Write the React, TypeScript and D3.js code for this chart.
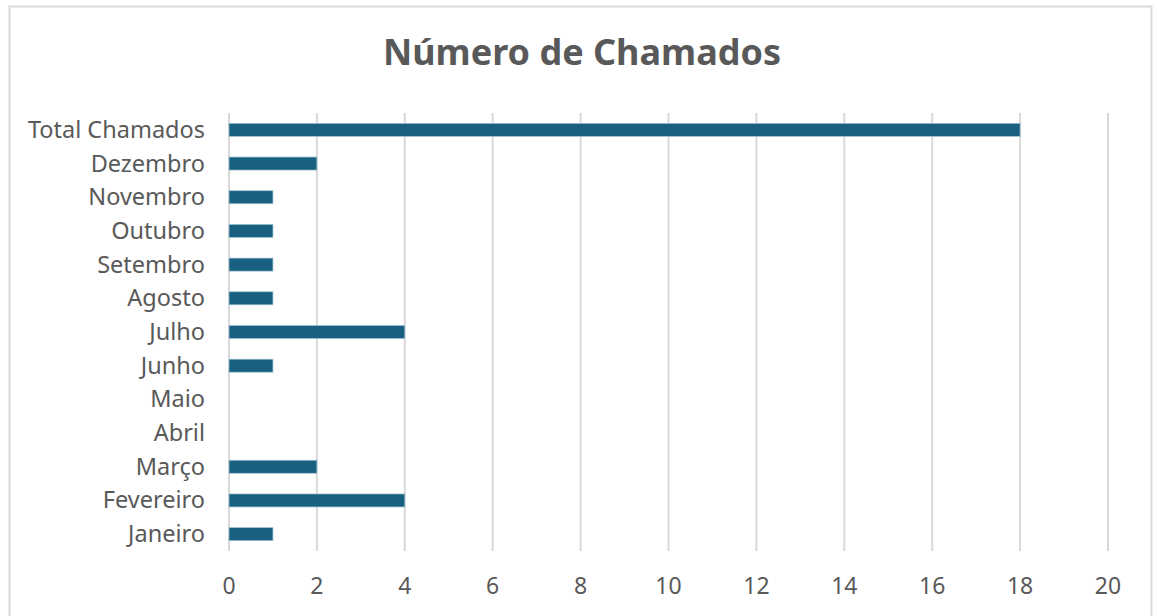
import React from "react";
import * as d3 from "d3";

const categories = ["Total Chamados", "Dezembro", "Novembro", "Outubro", "Setembro", "Agosto", "Julho", "Junho", "Maio", "Abril", "Março", "Fevereiro", "Janeiro"];
const values = [18, 2, 1, 1, 1, 1, 4, 1, 0, 0, 2, 4, 1];
const xTicks = [0, 2, 4, 6, 8, 10, 12, 14, 16, 18, 20];
const title = "Número de Chamados";

export default function App() {
  const W = 1157, H = 616;
  const x = d3.scaleLinear().domain([0, 20]).range([229, 1108]);
  const band = d3.scaleBand<string>().domain(categories).range([113, 551]);
  const font = "'Noto Sans', 'Open Sans', sans-serif";
  const barH = 13;
  return (
    <svg width={W} height={H} style={{ position: "absolute", left: 0, top: 0, background: "#fff" }}>
      <rect x={9.5} y={6.5} width={1142} height={640} fill="#fff" stroke="#d9d9d9" strokeWidth={2} />
      <text x={582} y={65} textAnchor="middle" fontFamily={font} fontWeight={700} fontSize={36} fill="#595959">{title}</text>
      {xTicks.map(t => (
        <g key={t}>
          <line x1={x(t)} x2={x(t)} y1={113} y2={551} stroke="#d9d9d9" strokeWidth={2} />
          <text x={x(t)} y={594} textAnchor="middle" fontFamily={font} fontSize={23} fill="#595959">{t}</text>
        </g>
      ))}
      {categories.map((c, i) => {
        const cy = (band(c) as number) + band.bandwidth() / 2;
        return (
          <g key={c}>
            <text x={205} y={cy + 8} textAnchor="end" fontFamily={font} fontSize={23.5} fill="#595959">{c}</text>
            {values[i] > 0 && (
              <rect x={x(0)} y={cy - barH / 2} width={x(values[i]) - x(0)} height={barH} fill="#185f80" stroke="#9cc1d2" strokeWidth={0.75} />
            )}
          </g>
        );
      })}
    </svg>
  );
}
